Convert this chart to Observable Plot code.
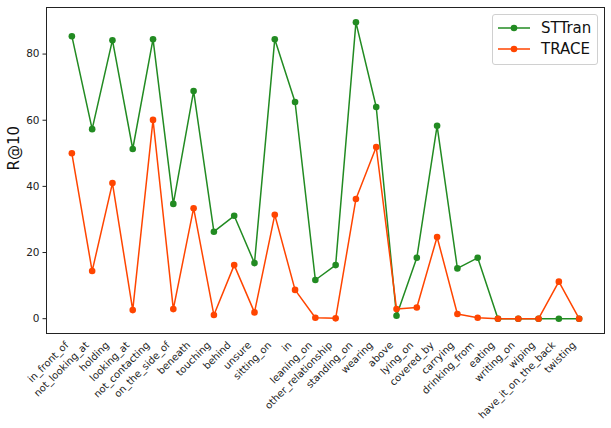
<!DOCTYPE html>
<html>
<head>
<meta charset="utf-8">
<script src="https://cdn.jsdelivr.net/npm/d3@7"></script>
<script src="https://cdn.jsdelivr.net/npm/@observablehq/plot@0.6"></script>
<style>
  html, body { margin: 0; padding: 0; background: #fff; }
  #wrap { position: relative; width: 611px; height: 428px; font-family: "DejaVu Sans", sans-serif; }
  #legend { position: absolute; left: 492px; top: 14px; width: 104px; height: 49px; border: 1px solid #d0d0d0; border-radius: 3px; background: rgba(255,255,255,0.85); }
  .row { position: absolute; left: 0; height: 20px; display: flex; align-items: center; }
  .row svg { margin-left: 5px; }
  .row span { position: absolute; left: 48px; font-size: 15px; color: #111; white-space: nowrap; }
</style>
</head>
<body>
<div id="wrap"></div>
<script>
const categories = ["in_front_of","not_looking_at","holding","looking_at","not_contacting","on_the_side_of","beneath","touching","behind","unsure","sitting_on","in","leaning_on","other_relationship","standing_on","wearing","above","lying_on","covered_by","carrying","drinking_from","eating","writing_on","wiping","have_it_on_the_back","twisting"];
const sttran = [85.4,57.3,84.2,51.3,84.5,34.7,68.8,26.3,31.1,16.8,84.5,65.5,11.7,16.2,89.6,64.0,0.9,18.4,58.3,15.2,18.4,0,0,0,0,0];
const trace  = [50.0,14.4,41.0,2.6,60.1,2.9,33.4,1.1,16.2,1.9,31.4,8.7,0.3,0.1,36.2,51.9,2.9,3.4,24.7,1.4,0.3,0,0,0,11.2,0];
const yTicks = [0,20,40,60,80];
const seriesNames = ["STTran","TRACE"];
const colors = ["#228B22","#FF4500"];

const data = [];
categories.forEach((c,i) => {
  data.push({cat:c, value:sttran[i], series:seriesNames[0]});
});
categories.forEach((c,i) => {
  data.push({cat:c, value:trace[i], series:seriesNames[1]});
});

const ymax = d3.max(data, d => d.value);
const pad = ymax * 0.05;

const chart = Plot.plot({
  width: 611,
  height: 428,
  marginLeft: 46,
  marginRight: 7,
  marginTop: 7,
  marginBottom: 95,
  style: {fontFamily: "DejaVu Sans, sans-serif", background: "transparent"},
  x: {type: "point", domain: categories, padding: 1.25, round: false},
  y: {domain: [-pad, ymax + pad]},
  color: {domain: seriesNames, range: colors},
  marks: [
    Plot.frame({stroke: "#222", strokeWidth: 1}),
    Plot.axisY({ticks: yTicks, tickSize: 3.5, tickPadding: 3.5, fontSize: 10.5, label: null, tickFormat: d3.format("d"), color: "#222"}),
    Plot.axisX({tickSize: 0, tickRotate: -45, tickPadding: 5, dx: -5, dy: 5, fontSize: 10, label: null, color: "#222"}),
    Plot.text(["R@10"], {frameAnchor: "left", rotate: -90, dx: -32, fontSize: 15, fill: "#111"}),
    Plot.line(data, {x: "cat", y: "value", stroke: "series", z: "series", strokeWidth: 1.5}),
    Plot.dot(data, {x: "cat", y: "value", fill: "series", r: 3.3})
  ]
});

const wrap = document.getElementById("wrap");
wrap.appendChild(chart);

const legend = document.createElement("div");
legend.id = "legend";
seriesNames.forEach((name, i) => {
  const row = document.createElement("div");
  row.className = "row";
  row.style.top = (3 + i * 21) + "px";
  row.innerHTML = `<svg width="32" height="10"><line x1="0" y1="5" x2="32" y2="5" stroke="${colors[i]}" stroke-width="1.5"/><circle cx="16" cy="5" r="3.3" fill="${colors[i]}"/></svg><span>${name}</span>`;
  legend.appendChild(row);
});
wrap.appendChild(legend);
</script>
</body>
</html>
